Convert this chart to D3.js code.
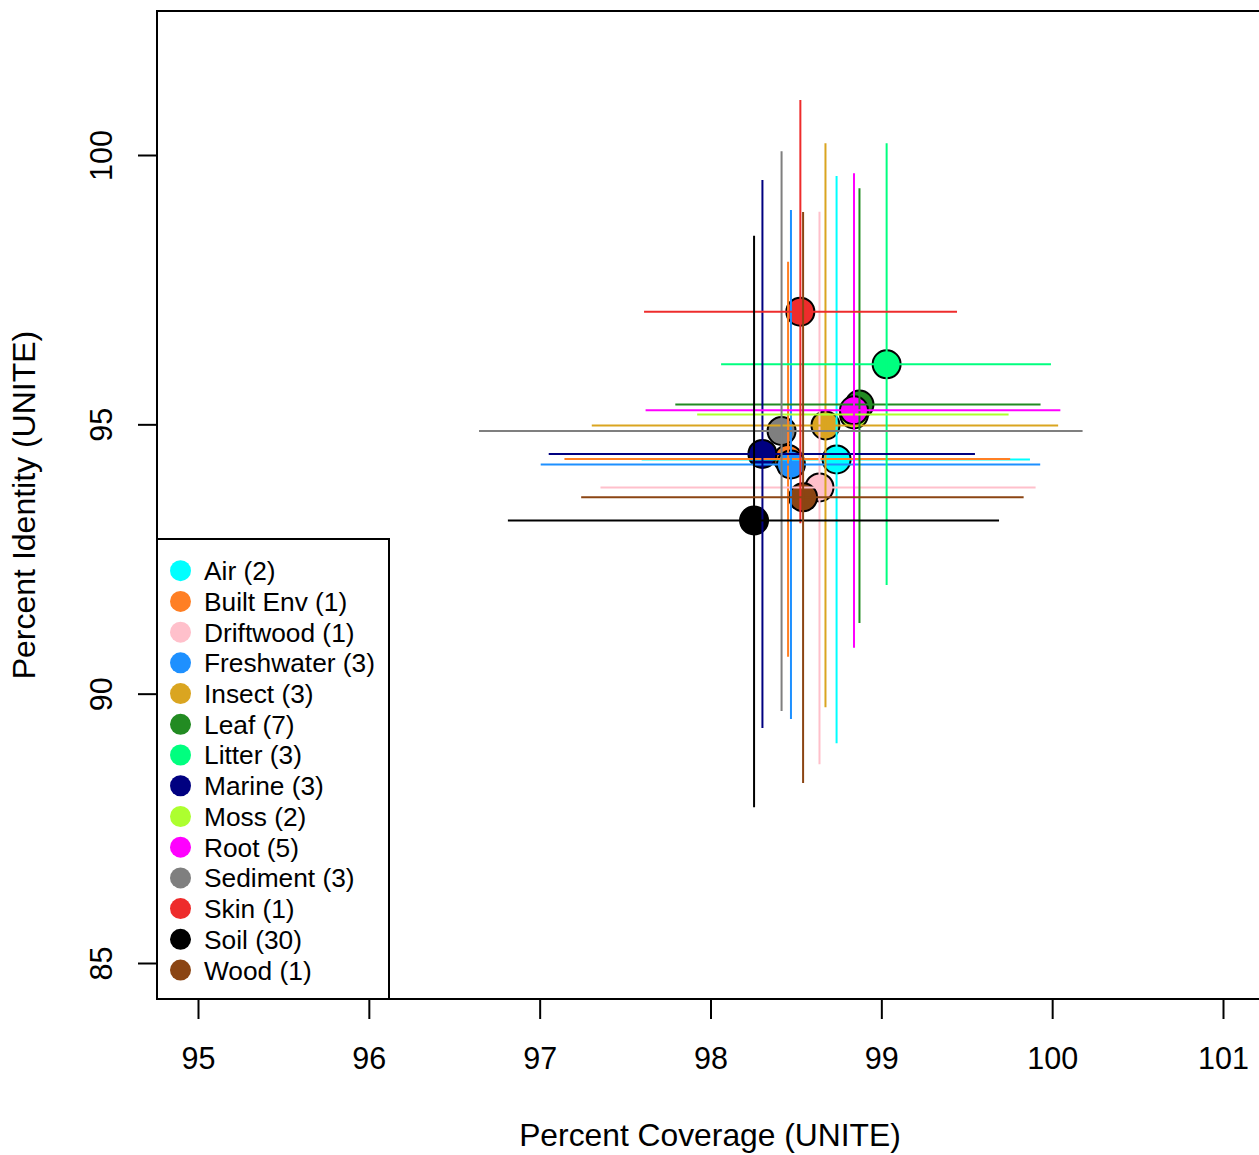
<!DOCTYPE html>
<html>
<head>
    <title>Percent Coverage vs Percent Identity (UNITE)</title>
    <script src="https://d3js.org/d3.v7.min.js"></script>
    <style>
        body { margin: 0; background: #fff; }
        svg { font-family: "Liberation Sans", Arial, Helvetica, sans-serif; }
        .tick line { stroke: #000; stroke-width: 2; }
        .tick text { font-size: 30.5px; fill: #000; }
    </style>
</head>
<body>
    <div id="chart"></div>
    <script>
        var categories = ["Air", "Built Env", "Driftwood", "Freshwater", "Insect", "Leaf", "Litter",
                          "Marine", "Moss", "Root", "Sediment", "Skin", "Soil", "Wood"];
        var counts = [2, 1, 1, 3, 3, 7, 3, 3, 2, 5, 3, 1, 30, 1];
        var colors = ["#00FFFF", "#FF7F24", "#FFC0CB", "#1E90FF", "#DAA520", "#228B22", "#00FF7F",
                      "#000080", "#ADFF2F", "#FF00FF", "#7F7F7F", "#EE2C2C", "#000000", "#8B4513"];

        // mean coverage with low / high extent
        var coverage   = [98.738, 98.454, 98.638, 98.471, 98.673, 98.872, 99.031, 98.304, 98.840, 98.840, 98.416, 98.526, 98.255, 98.542];
        var coverageLo = [97.597, 97.145, 97.356, 97.006, 97.305, 97.794, 98.062, 97.053, 97.922, 97.620, 96.645, 97.611, 96.814, 97.243];
        var coverageHi = [99.870, 99.754, 99.903, 99.930, 100.035, 99.932, 99.993, 99.548, 99.745, 100.048, 100.178, 99.443, 99.689, 99.833];

        // mean identity with low / high extent
        var identity   = [94.348, 94.357, 93.828, 94.255, 94.979, 95.368, 96.115, 94.450, 95.183, 95.261, 94.877, 97.091, 93.215, 93.646];
        var identityLo = [89.079, 90.687, 88.689, 89.530, 89.748, 91.312, 92.018, 89.363, 91.337, 90.854, 89.679, 93.163, 87.891, 88.342];
        var identityHi = [99.610, 98.019, 98.947, 98.979, 100.217, 99.382, 100.217, 99.536, 99.040, 99.660, 100.069, 101.021, 98.502, 98.942];

        var xTicks = [95, 96, 97, 98, 99, 100, 101];
        var yTicks = [85, 90, 95, 100];

        var width = 1259, height = 1155;
        var box = { left: 157, top: 11, right: 1260, bottom: 999 };

        var x = d3.scaleLinear().domain([95, 101]).range([198, 1223]);
        var y = d3.scaleLinear().domain([85, 100]).range([963, 155]);

        var data = categories.map(function(c, i) {
            return {
                name: c, count: counts[i], color: colors[i],
                x: coverage[i], x0: coverageLo[i], x1: coverageHi[i],
                y: identity[i], y0: identityLo[i], y1: identityHi[i]
            };
        });

        var svg = d3.select("#chart").append("svg")
            .attr("width", width)
            .attr("height", height);

        // points first, bars drawn over them
        svg.append("g").selectAll("circle")
            .data(data)
            .enter().append("circle")
            .attr("cx", function(d) { return x(d.x); })
            .attr("cy", function(d) { return y(d.y); })
            .attr("r", 14)
            .style("fill", function(d) { return d.color; })
            .style("stroke", "#000")
            .style("stroke-width", 2);

        var bars = svg.append("g").selectAll("g")
            .data(data)
            .enter().append("g");

        bars.append("line")
            .attr("x1", function(d) { return x(d.x0); })
            .attr("x2", function(d) { return x(d.x1); })
            .attr("y1", function(d) { return y(d.y); })
            .attr("y2", function(d) { return y(d.y); })
            .style("stroke", function(d) { return d.color; })
            .style("stroke-width", 2);

        bars.append("line")
            .attr("x1", function(d) { return x(d.x); })
            .attr("x2", function(d) { return x(d.x); })
            .attr("y1", function(d) { return y(d.y0); })
            .attr("y2", function(d) { return y(d.y1); })
            .style("stroke", function(d) { return d.color; })
            .style("stroke-width", 2);

        // axes
        var xAxis = svg.append("g")
            .attr("transform", "translate(0," + box.bottom + ")")
            .call(d3.axisBottom(x).tickValues(xTicks).tickSize(20).tickPadding(28).tickFormat(d3.format("d")));
        xAxis.select(".domain").remove();

        var yAxis = svg.append("g")
            .attr("transform", "translate(" + box.left + ",0)")
            .call(d3.axisLeft(y).tickValues(yTicks).tickSize(19).tickFormat(d3.format("d")));
        yAxis.select(".domain").remove();
        yAxis.selectAll(".tick text")
            .attr("transform", "rotate(-90)")
            .attr("x", 0)
            .attr("y", -45)
            .attr("dy", 0)
            .attr("text-anchor", "middle");

        // plot frame
        svg.append("rect")
            .attr("x", box.left)
            .attr("y", box.top)
            .attr("width", box.right - box.left)
            .attr("height", box.bottom - box.top)
            .style("fill", "none")
            .style("stroke", "#000")
            .style("stroke-width", 2);

        // axis titles
        svg.append("text")
            .attr("x", 710)
            .attr("y", 1146)
            .attr("text-anchor", "middle")
            .style("font-size", "31.8px")
            .text("Percent Coverage (UNITE)");

        svg.append("text")
            .attr("transform", "translate(35,505) rotate(-90)")
            .attr("text-anchor", "middle")
            .style("font-size", "32px")
            .text("Percent Identity (UNITE)");

        // legend
        var legendTop = 539, rowH = 30.72;
        svg.append("rect")
            .attr("x", box.left)
            .attr("y", legendTop)
            .attr("width", 389 - box.left)
            .attr("height", box.bottom - legendTop)
            .style("fill", "#fff")
            .style("stroke", "#000")
            .style("stroke-width", 2);

        var legend = svg.append("g").selectAll("g")
            .data(data)
            .enter().append("g")
            .attr("transform", function(d, i) {
                return "translate(0," + (570.7 + i * rowH) + ")";
            });

        legend.append("circle")
            .attr("cx", 180.5)
            .attr("cy", 0)
            .attr("r", 10.5)
            .style("fill", function(d) { return d.color; });

        legend.append("text")
            .attr("x", 204)
            .attr("dy", "0.36em")
            .style("font-size", "26.3px")
            .text(function(d) { return d.name + " (" + d.count + ")"; });
    </script>
</body>
</html>
